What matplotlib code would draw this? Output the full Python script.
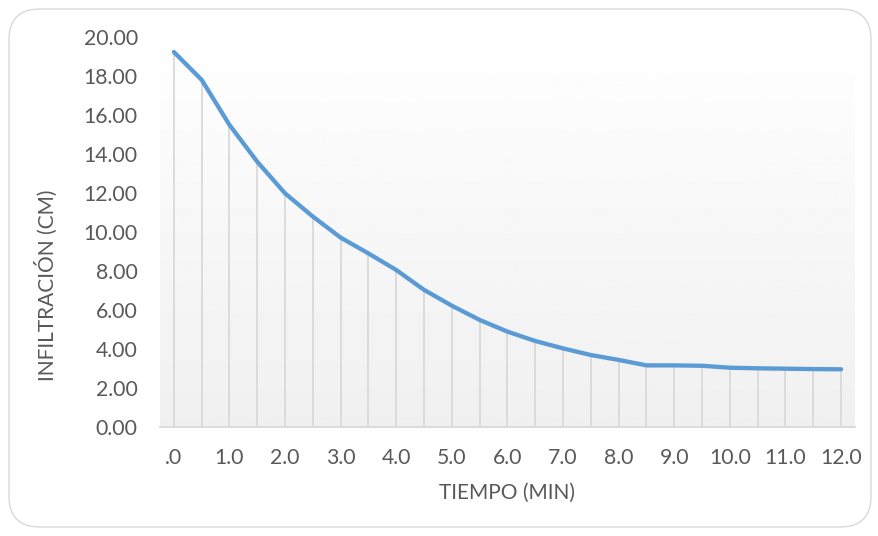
import numpy as np
import matplotlib
matplotlib.use('Agg')
import matplotlib.pyplot as plt
from matplotlib.patches import FancyBboxPatch

# data (tiempo in min, infiltracion in cm)
tiempo = [0.0, 0.5, 1.0, 1.5, 2.0, 2.5, 3.0, 3.5, 4.0, 4.5, 5.0, 5.5, 6.0,
          6.5, 7.0, 7.5, 8.0, 8.5, 9.0, 9.5, 10.0, 10.5, 11.0, 11.5, 12.0]
infiltracion = [19.23, 17.80, 15.49, 13.60, 11.98, 10.79, 9.71, 8.90, 8.05,
                7.03, 6.22, 5.49, 4.89, 4.41, 4.03, 3.69, 3.44, 3.16, 3.16,
                3.14, 3.04, 3.01, 2.99, 2.97, 2.96]
xticks = [0, 1, 2, 3, 4, 5, 6, 7, 8, 9, 10, 11, 12]
xlabels = ['.0'] + ['%.1f' % v for v in xticks[1:]]
yticks = [0, 2, 4, 6, 8, 10, 12, 14, 16, 18, 20]

plt.rcParams['font.family'] = ['Lato', 'DejaVu Sans']
txt = '#595959'

fig = plt.figure(figsize=(8.79, 5.36), dpi=100)
border = FancyBboxPatch((9/879, 9/536), 862/879, 518/536,
                        boxstyle='round,pad=0,rounding_size=0.035',
                        transform=fig.transFigure, fc='white',
                        ec='#d9d9d9', lw=1, mutation_aspect=879/536,
                        zorder=-10)
fig.patches.append(border)

ax = fig.add_axes([160/879, 109/536, 695/879, 390/536])
ax.set_xlim(-0.25, 12.25)

# gradient fill of the plot area
grad = np.linspace(1.0, 0.94, 256).reshape(-1, 1)
ax.imshow(grad, cmap='gray', vmin=0, vmax=1, aspect='auto',
          extent=[-0.25, 12.25, 0, 20.6], origin='upper', zorder=0)
ax.set_ylim(0, 20)

ax.vlines(tiempo, 0, infiltracion, color='#d9d9d9', lw=1.3, zorder=1)
ax.plot(tiempo, infiltracion, color='#5b9bd5', lw=3.1, solid_capstyle='round',
        solid_joinstyle='round', zorder=3, clip_on=False)

for s in ['top', 'right', 'left']:
    ax.spines[s].set_visible(False)
ax.spines['bottom'].set_color('#d9d9d9')
ax.spines['bottom'].set_linewidth(1.3)

ax.set_xticks(xticks)
ax.set_xticklabels(xlabels)
ax.set_yticks(yticks)
ax.set_yticklabels(['%.2f' % v for v in yticks])
ax.tick_params(axis='both', length=0, labelsize=15.3, colors=txt)
ax.tick_params(axis='x', pad=15)
ax.tick_params(axis='y', pad=16)

ax.set_xlabel('TIEMPO (MIN)', fontsize=15, color=txt, labelpad=11)
ax.set_ylabel('INFILTRACIÓN (CM)', fontsize=15, color=txt, va='center')
ax.yaxis.set_label_coords(-114/695, 142/390)

fig.savefig('out.png', dpi=100)
